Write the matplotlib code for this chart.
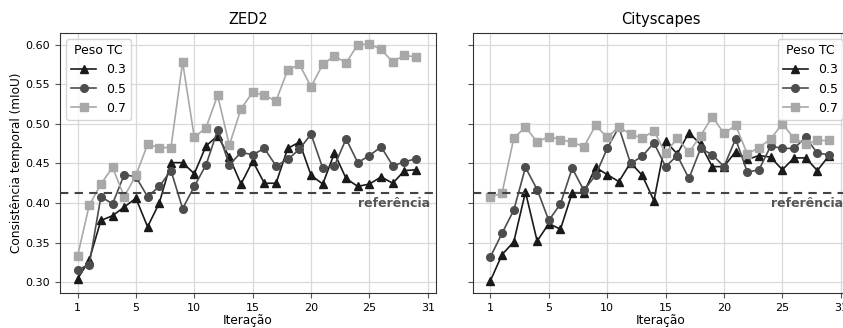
import numpy as np
import matplotlib
matplotlib.use('Agg')
from matplotlib import pyplot as plt
import matplotlib.transforms as mtransforms

plt.rcParams['font.family'] = 'DejaVu Sans'

titles = ['ZED2', 'Cityscapes']
pesos = ['0.3', '0.5', '0.7']
tick_pos = [0, 5, 10, 15, 20, 25, 30]
tick_labels = ['1', '5', '10', '15', '20', '25', '31']
referencia = 0.4125

zed_03 = [0.304, 0.328, 0.378, 0.384, 0.395, 0.406, 0.370, 0.400, 0.451, 0.451,
          0.437, 0.472, 0.485, 0.458, 0.424, 0.453, 0.425, 0.425, 0.469, 0.477,
          0.435, 0.424, 0.463, 0.431, 0.421, 0.424, 0.433, 0.425, 0.441, 0.442]
zed_05 = [0.316, 0.322, 0.408, 0.399, 0.436, 0.433, 0.408, 0.421, 0.441, 0.393,
          0.421, 0.448, 0.492, 0.448, 0.464, 0.461, 0.469, 0.447, 0.455, 0.468,
          0.487, 0.444, 0.447, 0.481, 0.451, 0.460, 0.471, 0.447, 0.452, 0.456]
zed_07 = [0.333, 0.397, 0.424, 0.445, 0.408, 0.435, 0.474, 0.470, 0.470, 0.578,
          0.483, 0.495, 0.536, 0.473, 0.519, 0.540, 0.536, 0.529, 0.568, 0.575,
          0.547, 0.575, 0.586, 0.577, 0.600, 0.601, 0.594, 0.578, 0.587, 0.584]

city_03 = [0.302, 0.335, 0.351, 0.414, 0.352, 0.374, 0.367, 0.413, 0.413, 0.445,
           0.436, 0.427, 0.451, 0.435, 0.403, 0.478, 0.462, 0.489, 0.474, 0.446,
           0.446, 0.465, 0.455, 0.460, 0.458, 0.442, 0.457, 0.457, 0.441, 0.460]
city_05 = [0.332, 0.362, 0.391, 0.445, 0.417, 0.378, 0.399, 0.444, 0.416, 0.435,
           0.469, 0.496, 0.450, 0.459, 0.476, 0.446, 0.460, 0.431, 0.469, 0.461,
           0.446, 0.481, 0.439, 0.442, 0.472, 0.469, 0.469, 0.483, 0.463, 0.461]
city_07 = [0.407, 0.413, 0.482, 0.496, 0.477, 0.484, 0.480, 0.477, 0.471, 0.498,
           0.483, 0.496, 0.487, 0.482, 0.491, 0.463, 0.482, 0.464, 0.485, 0.509,
           0.488, 0.498, 0.462, 0.470, 0.481, 0.500, 0.482, 0.474, 0.479, 0.479]

dados = [[zed_03, zed_05, zed_07], [city_03, city_05, city_07]]
cores = ['#1a1a1a', '#4d4d4d', '#a8a8a8']
marcadores = ['^', 'o', 's']

fig = plt.figure(figsize=(8.43, 3.28), dpi=100)
ax1 = fig.add_axes([0.0712, 0.107, 0.446, 0.793])
ax2 = fig.add_axes([0.561, 0.107, 0.446, 0.793], sharey=ax1)
axes = [ax1, ax2]

for i, ax in enumerate(axes):
    for serie, cor, m, p in zip(dados[i], cores, marcadores, pesos):
        x = np.arange(len(serie))
        ax.plot(x, serie, color=cor, marker=m, markersize=5.5, linewidth=1.2, label=p)
    ax.axhline(referencia, color='#444444', linestyle='--', linewidth=1.5, dashes=(4, 3))
    trans = mtransforms.blended_transform_factory(ax.transAxes, ax.transData)
    ax.text(0.984, referencia - 0.005, 'referência', transform=trans, ha='right', va='top',
            fontsize=9, fontweight='bold', color='#555555')
    ax.set_title(titles[i], fontsize=10.5)
    ax.set_xlabel('Iteração', fontsize=8.7, labelpad=1)
    ax.set_xticks(tick_pos)
    ax.set_xticklabels(tick_labels)
    ax.set_xlim(-1.5, 30.7)
    ax.set_ylim(0.2865, 0.615)
    ax.set_yticks([0.30, 0.35, 0.40, 0.45, 0.50, 0.55, 0.60])
    ax.grid(True, color='#d9d9d9', linewidth=0.9)
    ax.set_axisbelow(True)
    ax.tick_params(labelsize=8, color='#555555', length=3.5)
    for s in ax.spines.values():
        s.set_color('#333333')

ax1.set_ylabel('Consistência temporal (mIoU)', fontsize=8.7, labelpad=2)
ax2.tick_params(labelleft=False)

ax1.legend(title='Peso TC', loc='upper left', fontsize=9, title_fontsize=9)
ax2.legend(title='Peso TC', loc='upper right', fontsize=9, title_fontsize=9)

plt.savefig('out.png', dpi=100)
